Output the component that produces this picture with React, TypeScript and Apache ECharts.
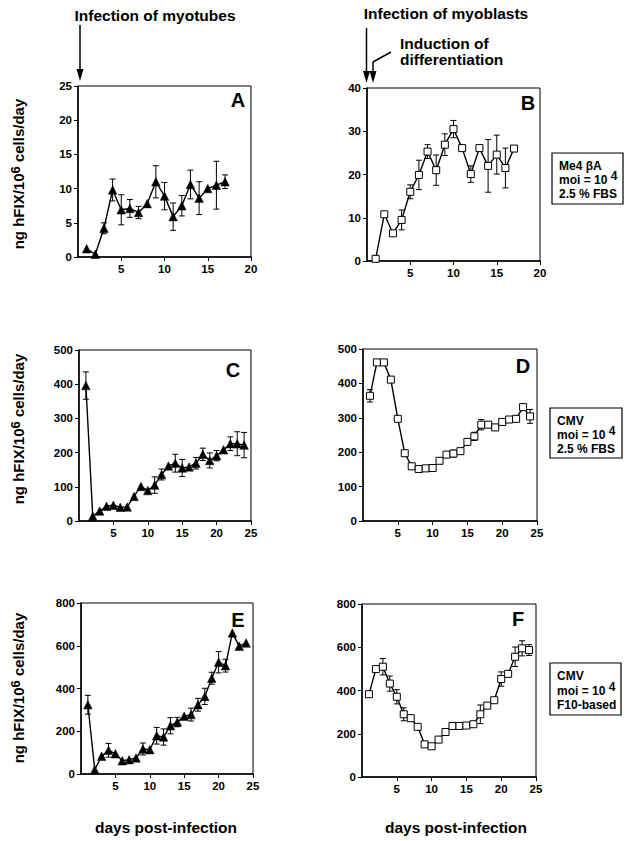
import React, { useEffect, useRef } from "react";
import * as echarts from "echarts";

// ---------- data ----------
const daysA = [1, 2, 3, 4, 5, 6, 7, 8, 9, 10, 11, 12, 13, 14, 15, 16, 17];
const daysC = [1, 2, 3, 4, 5, 6, 7, 8, 9, 10, 11, 12, 13, 14, 15, 16, 17, 18, 19, 20, 21, 22, 23, 24];

const valA = [1.2, 0.4, 4.2, 9.8, 6.9, 7.1, 6.5, 7.8, 11.0, 8.9, 5.9, 7.5, 10.6, 8.6, 10.0, 10.5, 11.0];
const errA = [0, 0, 0.8, 1.6, 2.2, 1.3, 0.9, 0, 2.35, 2.0, 2.0, 1.5, 2.1, 2.4, 0, 3.5, 1.0];

const valB = [0.5, 10.8, 6.4, 9.5, 16.0, 19.9, 25.3, 21.0, 26.9, 30.5, 26.1, 20.1, 26.1, 22.0, 24.6, 21.5, 26.0];
const errB = [0, 0, 0, 2.3, 1.6, 3.4, 1.6, 3.5, 2.5, 2.0, 0, 1.9, 0, 6.1, 4.5, 4.6, 0];

const valC = [396, 14, 29, 43, 46, 40, 41, 72, 101, 89, 105, 136, 161, 169, 155, 158, 169, 195, 177, 191, 208, 226, 226, 222];
const errC = [40, 0, 0, 0, 0, 0, 0, 0, 0, 0, 24, 16, 0, 26, 25, 0, 17, 18, 22, 15, 0, 20, 35, 37];

const valD = [364, 461, 461, 411, 297, 197, 159, 151, 153, 154, 175, 193, 196, 203, 230, 246, 280, 280, 272, 288, 295, 297, 331, 304];
const errD = [18, 0, 0, 0, 0, 0, 0, 0, 0, 0, 0, 0, 10, 0, 0, 12, 15, 0, 0, 0, 0, 0, 0, 20];

const valE = [324, 20, 83, 111, 95, 62, 67, 75, 117, 114, 179, 173, 226, 243, 270, 278, 324, 363, 448, 523, 507, 660, 598, 613];
const errE = [44, 0, 0, 32, 0, 0, 0, 0, 28, 0, 39, 38, 38, 22, 0, 30, 30, 38, 28, 50, 30, 0, 0, 0];

const valF = [383, 499, 510, 432, 371, 290, 272, 232, 151, 142, 173, 208, 236, 236, 238, 244, 290, 330, 355, 453, 477, 556, 595, 587];
const errF = [0, 0, 38, 35, 33, 30, 0, 0, 0, 0, 0, 0, 0, 0, 0, 0, 43, 0, 0, 33, 0, 45, 35, 25];

const xMaxList = [20, 20, 25, 25, 25, 25];
const yMaxList = [25, 40, 500, 500, 800, 800];
const yStepList = [5, 10, 100, 100, 200, 200];
const panelLetters = ["A", "B", "C", "D", "E", "F"];

const yLabelMain = "ng hFIX/10";
const yLabelSup = "6";
const yLabelEnd = " cells/day";
const xLabel = "days post-infection";

// ---------- layout ----------
const grids = [
  { left: 78, top: 86, width: 173, height: 171 },
  { left: 367, top: 88, width: 173, height: 173 },
  { left: 79, top: 350, width: 172, height: 171 },
  { left: 363, top: 349, width: 174, height: 172 },
  { left: 81, top: 603, width: 172, height: 171 },
  { left: 362, top: 604, width: 174, height: 173 },
];
const letterPos = [
  [238, 100], [528, 103], [233, 370], [523, 366], [238, 620], [518, 619],
];

const FONT = '"Liberation Sans", Arial, Helvetica, sans-serif';

export default function App() {
  const ref = useRef<HTMLDivElement>(null);

  useEffect(() => {
    if (!ref.current) return;
    const chart = echarts.init(ref.current, undefined, { renderer: "svg" });

    const panels = [
      { days: daysA, val: valA, err: errA, tri: true },
      { days: daysA, val: valB, err: errB, tri: false },
      { days: daysC, val: valC, err: errC, tri: true },
      { days: daysC, val: valD, err: errD, tri: false },
      { days: daysC, val: valE, err: errE, tri: true },
      { days: daysC, val: valF, err: errF, tri: false },
    ];

    const series: any[] = [];
    panels.forEach((p, i) => {
      series.push({
        type: "custom",
        xAxisIndex: i,
        yAxisIndex: i,
        z: 3,
        silent: true,
        encode: { x: 0, y: 1 },
        data: p.days.map((d, j) => [d, p.val[j], p.err[j]]),
        renderItem: (params: any, api: any) => {
          const x = api.value(0);
          const y = api.value(1);
          const e = api.value(2);
          if (!e) return null;
          const t = api.coord([x, y + e]);
          const b = api.coord([x, y - e]);
          const st = { stroke: "#000", lineWidth: 1 };
          const cw = 3;
          return {
            type: "group",
            children: [
              { type: "line", shape: { x1: t[0], y1: t[1], x2: b[0], y2: b[1] }, style: st },
              { type: "line", shape: { x1: t[0] - cw, y1: t[1], x2: t[0] + cw, y2: t[1] }, style: st },
              { type: "line", shape: { x1: b[0] - cw, y1: b[1], x2: b[0] + cw, y2: b[1] }, style: st },
            ],
          };
        },
      });
      series.push({
        type: "line",
        xAxisIndex: i,
        yAxisIndex: i,
        z: 4,
        data: p.days.map((d, j) => [d, p.val[j]]),
        symbol: p.tri ? "triangle" : "rect",
        symbolSize: p.tri ? 8.5 : 7,
        showAllSymbol: true,
        lineStyle: { color: "#000", width: 1.4 },
        itemStyle: p.tri
          ? { color: "#000", borderColor: "#000", borderWidth: 0.5 }
          : { color: "#fff", borderColor: "#000", borderWidth: 1 },
      });
    });

    const axisBase = {
      axisLine: { show: true, onZero: false, lineStyle: { color: "#000", width: 1.5 } },
      axisTick: { show: true, length: 4, lineStyle: { color: "#000", width: 1 } },
      splitLine: { show: false },
    };
    const labelBase = { color: "#000", fontWeight: "bold", fontSize: 11.5, fontFamily: FONT };

    const graphic: any[] = [];
    // panel letters
    letterPos.forEach((pos, i) => {
      graphic.push({
        type: "text",
        x: pos[0],
        y: pos[1],
        style: {
          text: panelLetters[i],
          font: `bold 20px ${FONT}`,
          fill: "#000",
          align: "center",
          verticalAlign: "middle",
        },
      });
    });
    // y labels
    [174, 429, 688].forEach((cy) => {
      graphic.push({
        type: "text",
        x: 17,
        y: cy,
        rotation: Math.PI / 2,
        style: {
          text: `{a|${yLabelMain}}{s|${yLabelSup}}{a|${yLabelEnd}}`,
          align: "center",
          verticalAlign: "middle",
          fill: "#000",
          rich: {
            a: { font: `bold 15px ${FONT}`, fill: "#000", lineHeight: 17, verticalAlign: "bottom" },
            s: { font: `bold 13px ${FONT}`, fill: "#000", lineHeight: 17, verticalAlign: "top" },
          },
        },
      });
    });
    // x labels
    [166, 456].forEach((cx) => {
      graphic.push({
        type: "text",
        x: cx,
        y: 827,
        style: {
          text: xLabel,
          font: `bold 15.5px ${FONT}`,
          fill: "#000",
          align: "center",
          verticalAlign: "middle",
        },
      });
    });
    // top annotations
    const topText = (t: string, x: number, y: number, align: string) =>
      graphic.push({
        type: "text",
        x,
        y,
        style: { text: t, font: `bold 15.5px ${FONT}`, fill: "#000", align, verticalAlign: "middle" },
      });
    topText("Infection of myotubes", 155, 15, "center");
    topText("Infection of myoblasts", 446, 13, "center");
    topText("Induction of", 400, 43, "left");
    topText("differentiation", 400, 59, "left");

    const arrow = (x: number, y1: number, y2: number) => {
      graphic.push({
        type: "line",
        shape: { x1: x, y1, x2: x, y2: y2 - 10 },
        style: { stroke: "#000", lineWidth: 1.5 },
      });
      graphic.push({
        type: "polygon",
        shape: { points: [[x - 3.5, y2 - 12], [x + 3.5, y2 - 12], [x, y2]] },
        style: { fill: "#000" },
      });
    };
    arrow(80, 25, 81);
    arrow(366.5, 28, 83);
    arrow(373, 62, 83);
    graphic.push({
      type: "line",
      shape: { x1: 373, y1: 62, x2: 391, y2: 52 },
      style: { stroke: "#000", lineWidth: 1.5 },
    });

    // condition boxes
    const box = (x: number, y: number, w: number, h: number, lines: [string, number][]) => {
      graphic.push({
        type: "rect",
        shape: { x, y, width: w, height: h },
        style: { fill: "#fff", stroke: "#000", lineWidth: 1.2 },
      });
      lines.forEach(([t, ly]) => {
        graphic.push({
          type: "text",
          x: x + 7,
          y: ly,
          style: {
            text: t,
            fill: "#000",
            align: "left",
            verticalAlign: "middle",
            rich: {
              a: { font: `bold 12px ${FONT}`, fill: "#000", lineHeight: 16, verticalAlign: "bottom" },
              s: { font: `bold 12px ${FONT}`, fill: "#000", lineHeight: 16, verticalAlign: "top" },
            },
          },
        });
      });
    };
    box(552, 153, 71, 51, [
      ["{a|Me4 βA}", 164],
      ["{a|moi = 10 }{s|4}", 178],
      ["{a|2.5 % FBS}", 192],
    ]);
    box(550, 408, 72, 50, [
      ["{a|CMV}", 418.5],
      ["{a|moi = 10 }{s|4}", 433],
      ["{a|2.5 % FBS}", 447],
    ]);
    box(550, 663, 71, 52, [
      ["{a|CMV}", 674],
      ["{a|moi = 10 }{s|4}", 689],
      ["{a|F10-based}", 703],
    ]);

    const option: any = {
      animation: false,
      backgroundColor: "#fff",
      grid: grids.map((g) => ({
        ...g,
        show: true,
        borderColor: "#000",
        borderWidth: 1,
        backgroundColor: "transparent",
        containLabel: false,
      })),
      xAxis: grids.map((_, i) => ({
        type: "value",
        gridIndex: i,
        min: 0,
        max: xMaxList[i],
        interval: 5,
        ...axisBase,
        axisLabel: { ...labelBase, showMinLabel: false, margin: 6 },
      })),
      yAxis: grids.map((_, i) => ({
        type: "value",
        gridIndex: i,
        min: 0,
        max: yMaxList[i],
        interval: yStepList[i],
        ...axisBase,
        axisLabel: { ...labelBase, margin: 6 },
      })),
      series,
      graphic,
    };
    chart.setOption(option);
    return () => chart.dispose();
  }, []);

  return (
    <div
      ref={ref}
      style={{ position: "absolute", left: 0, top: 0, width: 627, height: 841, background: "#fff" }}
    />
  );
}
